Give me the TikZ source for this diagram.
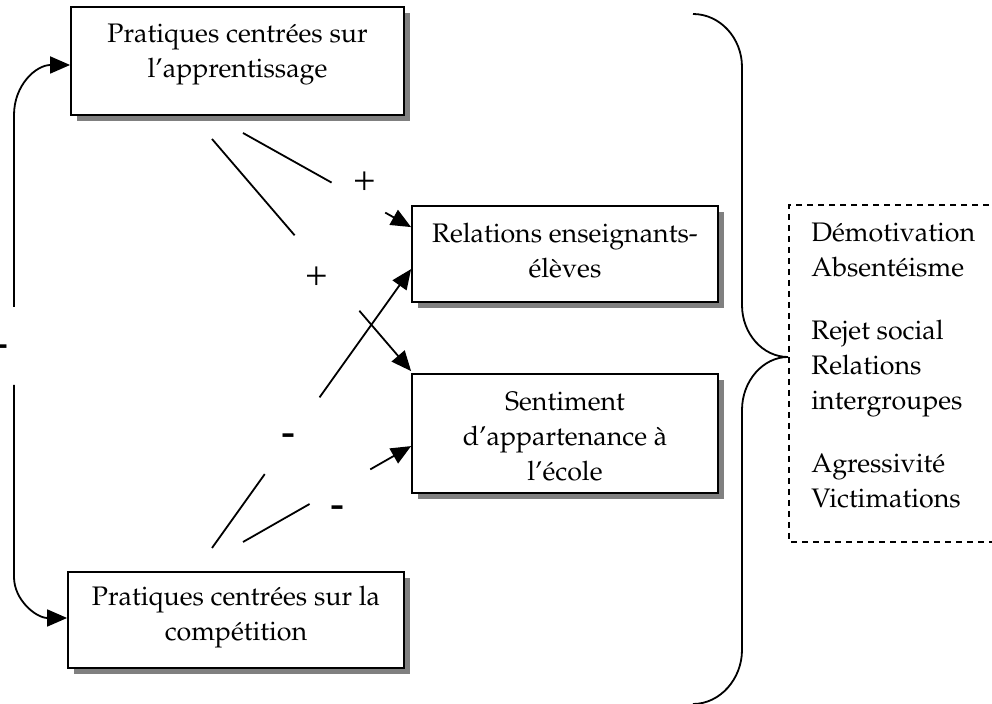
\documentclass[tikz,border=0pt]{standalone}
\usepackage{fontspec}
\usepackage[T1]{fontenc}
\usepackage{mathpazo}
\usetikzlibrary{arrows.meta,shadows,calc}

\newfontfamily\signfont{Liberation Serif}
\definecolor{shadowgray}{HTML}{808080}

\tikzset{
  box/.style={draw, line width=0.9pt, fill=white,
    general shadow={fill=shadowgray, shadow xshift=3pt, shadow yshift=-3pt}},
  boxtext/.style={inner sep=0pt, align=center,
    font=\fontsize{13.4}{17.5}\selectfont},
  link/.style={line width=0.9pt, -{Triangle[length=10pt,width=8.5pt]}},
  sign/.style={inner sep=0pt, font=\signfont\fontsize{20}{22}\selectfont},
  minus/.style={inner sep=0pt, font=\signfont\bfseries\fontsize{21}{22}\selectfont},
  brace/.style={line width=0.9pt},
  outbox/.style={draw, line width=0.8pt, dash pattern=on 3pt off 2.5pt}
}

\begin{document}
\begin{tikzpicture}[x=0.5pt, y=-0.5pt]
  \useasboundingbox (0,0) rectangle (992,704);

  % practice boxes (left) and mediator boxes (middle)
  \node[box, minimum width=166.5pt, minimum height=54pt] (A) at (237.5,61) {};
  \node[boxtext] (At) at (237.5,55) {Pratiques centrées sur\\l'apprentissage};

  \node[box, minimum width=168pt, minimum height=48pt] (D) at (236,620) {};
  \node[boxtext] (Dt) at (236,617) {Pratiques centrées sur la\\compétition};

  \node[box, minimum width=153pt, minimum height=48pt] (B) at (565,254) {};
  \node[boxtext] (Bt) at (565,251) {Relations enseignants-\\élèves};

  \node[box, minimum width=153pt, minimum height=59.5pt] (C) at (565,433.5) {};
  \node[boxtext] (Ct) at (565,437) {Sentiment\\d'appartenance à\\l'école};

  % outcomes list in a dashed frame running off the right edge
  \draw[outbox] (1000,205) -- (789,205) -- (789,542) -- (1000,542);
  \node[inner sep=0pt, anchor=north west, align=left,
        font=\fontsize{13.4}{17.5}\selectfont] (out) at (811,223)
    {Démotivation\\Absentéisme\\[14pt]Rejet social\\Relations\\intergroupes\\[14pt]Agressivité\\Victimations};

  % free start points of the influence arrows
  \coordinate (s1) at (243,133);
  \coordinate (s2) at (212,139);
  \coordinate (s3) at (212,548);
  \coordinate (s4) at (243,542);
  \coordinate (t1) at ([yshift=-11pt]B.north west);
  \coordinate (t2) at ([yshift=1pt]C.north west);
  \coordinate (t3) at ([yshift=-32pt]B.north west);
  \coordinate (t4) at ([yshift=-36.5pt]C.north west);

  % influence arrows, each broken where its sign sits
  \draw[link] (s1) -- ($(s1)!0.527!(t1)$) ($(s1)!0.846!(t1)$) -- (t1);
  \draw[link] (s2) -- ($(s2)!0.415!(t2)$) ($(s2)!0.74!(t2)$) -- (t2);
  \draw[link] (s3) -- ($(s3)!0.265!(t3)$) ($(s3)!0.54!(t3)$) -- (t3);
  \draw[link] (s4) -- ($(s4)!0.396!(t4)$) ($(s4)!0.757!(t4)$) -- (t4);

  \node[sign] (p1) at (365,183) {+};
  \node[sign] (p2) at (317,278) {+};
  \node[minus] (m1) at (288,440) {-};
  \node[minus] (m2) at (337,512) {-};

  % feedback loop between the two kinds of practices, broken at its sign
  \coordinate (g1) at (14,307);
  \coordinate (g2) at (14,385);
  \draw[link] (g1) -- (14,115) .. controls (14,85) and (36,65) .. ([yshift=-2pt]A.west);
  \draw[link] (g2) -- (14,577) .. controls (14,600) and (36,618) .. ([yshift=1pt]D.west);
  \node[minus] (m3) at (1,351) {-};

  % brace gathering the mediators
  \draw[brace] (693,14) .. controls (720,14) and (742,38) .. (742,67)
    -- (742,305) .. controls (742,334) and (763,357) .. (788,357)
    .. controls (763,357) and (742,381) .. (742,410)
    -- (742,650) .. controls (742,679) and (720,704) .. (693,704);
\end{tikzpicture}
\end{document}
